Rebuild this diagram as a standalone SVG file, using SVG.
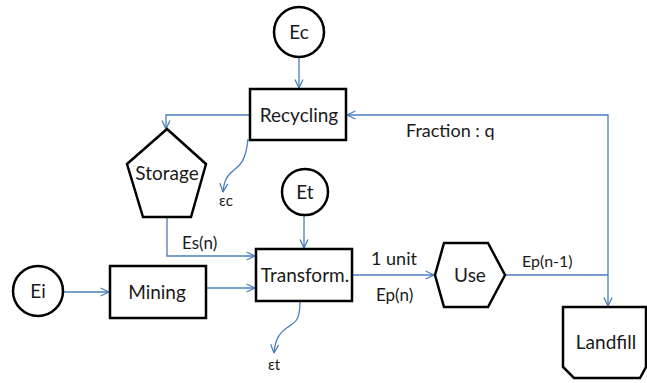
<svg xmlns="http://www.w3.org/2000/svg" width="647" height="383" viewBox="0 0 647 383">
<defs>
<style>
.n{fill:#fff;stroke:#000;stroke-width:2.5}
.c{fill:none;stroke:#4a7ebb;stroke-width:1.3}
text{font-family:Lato,"Open Sans","Liberation Sans",sans-serif;fill:#1a1a1a}
.t{font-size:19px;text-anchor:middle}
.l{font-size:18px}
.s{font-size:15px;text-anchor:middle}
</style>
<marker id="a" viewBox="0 0 10 10" refX="9.5" refY="5" markerWidth="10" markerHeight="10" markerUnits="userSpaceOnUse" orient="auto">
<path d="M1,1 L9.5,5 L1,9" fill="none" stroke="#4a7ebb" stroke-width="1.3"/>
</marker>
</defs>
<rect width="647" height="383" fill="#fff"/>
<g id="connectors">
<path class="c" d="M299,57 V88" marker-end="url(#a)"/>
<path class="c" d="M250,115 H166 V129" marker-end="url(#a)"/>
<path class="c" d="M248,139 C246,160 240,166 234,170 C226,176 224,182 223,192" marker-end="url(#a)"/>
<path class="c" d="M167,217 V256 H255" marker-end="url(#a)"/>
<path class="c" d="M304,214 V248" marker-end="url(#a)"/>
<path class="c" d="M63,292 H109" marker-end="url(#a)"/>
<path class="c" d="M206,288 H255" marker-end="url(#a)"/>
<path class="c" d="M352,275 H434" marker-end="url(#a)"/>
<path class="c" d="M300,301 C300,320 296,322 288,327 C279,333 275,340 274,353" marker-end="url(#a)"/>
<path class="c" d="M505,275 H608 V306" marker-end="url(#a)"/>
<path class="c" d="M608,275 V115 H347" marker-end="url(#a)"/>
</g>
<g id="Ec"><circle class="n" cx="299" cy="32" r="25"/><text class="t" x="299" y="39">Ec</text></g>
<g id="Recycling"><rect class="n" x="250" y="89" width="96" height="51"/><text class="t" x="299" y="122">Recycling</text></g>
<g id="Storage"><polygon class="n" points="167,129 206,164 191,217 143,217 127,164"/><text class="t" x="167" y="180">Storage</text></g>
<g id="Et"><circle class="n" cx="305" cy="192" r="23"/><text class="t" x="305" y="199">Et</text></g>
<g id="Ei"><circle class="n" cx="38" cy="291" r="25"/><text class="t" x="38" y="298">Ei</text></g>
<g id="Mining"><rect class="n" x="110" y="266" width="96" height="52"/><text class="t" x="157" y="299">Mining</text></g>
<g id="Transform"><rect class="n" x="256" y="249" width="96" height="52"/><text class="t" x="305" y="282">Transform.</text></g>
<g id="Use"><polygon class="n" points="435,275 444,243 488,243 505,275 488,307 444,307"/><text class="t" x="470" y="282">Use</text></g>
<g id="Landfill"><polygon class="n" points="563,307 646,307 646,367 640,378 574,378 563,367"/><text class="t" x="606" y="349">Landfill</text></g>
<g id="labels">
<text class="l" x="406" y="137">Fraction : q</text>
<text class="l" x="182" y="249" style="font-size:17px">Es(n)</text>
<text class="l" x="371" y="265">1 unit</text>
<text class="l" x="376" y="301" style="font-size:17px">Ep(n)</text>
<text class="l" x="522" y="267" style="font-size:16px">Ep(n-1)</text>
<text class="s" x="226" y="206">εc</text>
<text class="s" x="274" y="370">εt</text>
</g>
</svg>
